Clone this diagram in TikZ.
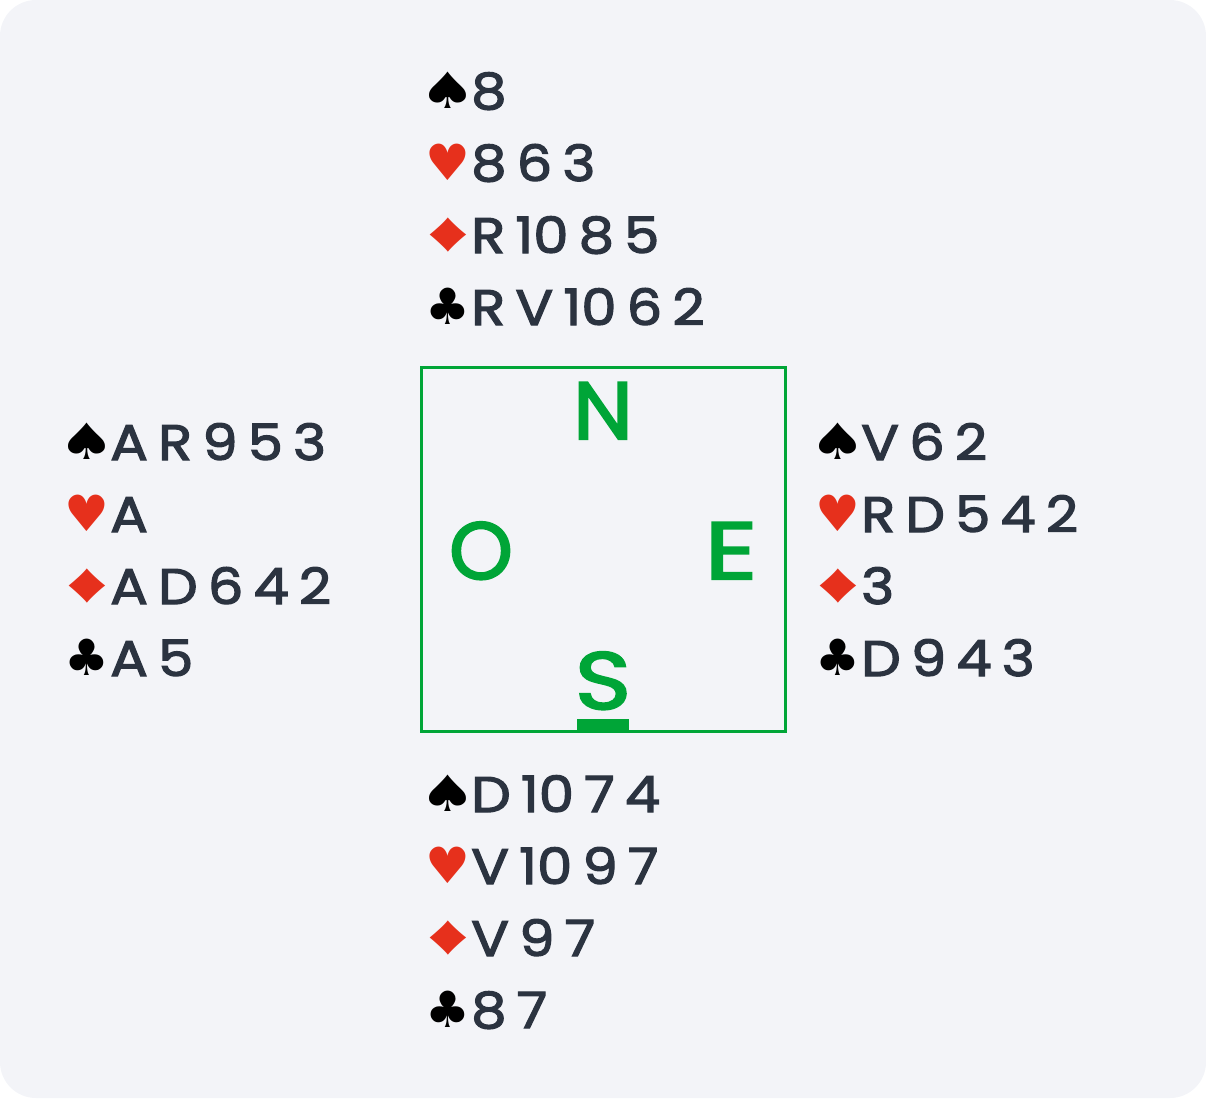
\documentclass[tikz,border=0pt]{standalone}
\usepackage{fontspec}
\usepackage{xcolor}
\usetikzlibrary{calc,positioning}
\setmainfont[FakeStretch=1.12,FakeBold=2.5,WordSpace=0.68]{Poppins}
\newfontfamily\compassfont[FakeBold=2.5]{Poppins}
\newfontfamily\suitfont{DejaVu Sans}
\newfontfamily\diamfont{Liberation Sans}
\definecolor{panelbg}{HTML}{F3F4F8}
\definecolor{inkcol}{HTML}{2B3340}
\definecolor{suitred}{HTML}{E6301C}
\definecolor{boxgreen}{HTML}{00A537}
\tikzset{
  suitmark/.style={anchor=base,inner sep=0pt,font=\suitfont\fontsize{50}{50}\selectfont},
  cards/.style={anchor=base west,inner sep=0pt,text=inkcol,font=\fontsize{50}{50}\selectfont},
  compass/.style={anchor=base,inner sep=0pt,text=boxgreen,font=\compassfont\fontsize{81}{81}\selectfont},
}
% one hand: prefix, left x, first baseline, the four holdings
\newcommand{\handat}[7]{
  \node[suitmark,text=black] (#1s) at (#2+19,#3) {\scalebox{1.27}[1]{♠}};
  \node[cards] (#1st) at (#2+42,#3+1) {#4};
  \node[suitmark,text=suitred] (#1h) at (#2+19,#3+72) {♥};
  \node[cards] (#1ht) at (#2+42,#3+73) {#5};
  \node[suitmark,text=suitred] (#1d) at (#2+19,#3+143) {\diamfont\scalebox{1.64}[1.125]{♦}};
  \node[cards] (#1dt) at (#2+42,#3+145) {#6};
  \node[suitmark,text=black] (#1c) at (#2+19,#3+216) {♣};
  \node[cards] (#1ct) at (#2+42,#3+217) {#7};
}
\begin{document}
\begin{tikzpicture}[x=1pt,y=-1pt]
  \useasboundingbox (0,0) rectangle (1206,1098);
  \fill[panelbg,rounded corners=36pt] (0,0) rectangle (1206,1098);
  % the table
  \coordinate (TL) at (421,367);
  \coordinate (BR) at (785,731);
  \draw[boxgreen,line width=3pt] (TL) rectangle (BR);
  \fill[boxgreen] (577,719) rectangle (629,731);
  \node[compass] (N) at (603,439) {\scalebox{1.05}[1]{N}};
  \node[compass] (O) at (481,579) {O};
  \node[compass] (E) at (731,579) {\scalebox{1.27}[1]{E}};
  \node[compass] (S) at (603,709) {\scalebox{1.18}[1]{S}};
  % the hands
  \handat{n}{429}{108}{8}{8 6 3}{R 10 8 5}{R V 10 6 2}
  \handat{o}{68}{459}{A R 9 5 3}{A}{A D 6 4 2}{A 5}
  \handat{e}{819}{459}{V 6 2}{R D 5 4 2}{3}{D 9 4 3}
  \handat{s}{429}{811}{D 10 7 4}{V 10 9 7}{V 9 7}{8 7}
\end{tikzpicture}
\end{document}
